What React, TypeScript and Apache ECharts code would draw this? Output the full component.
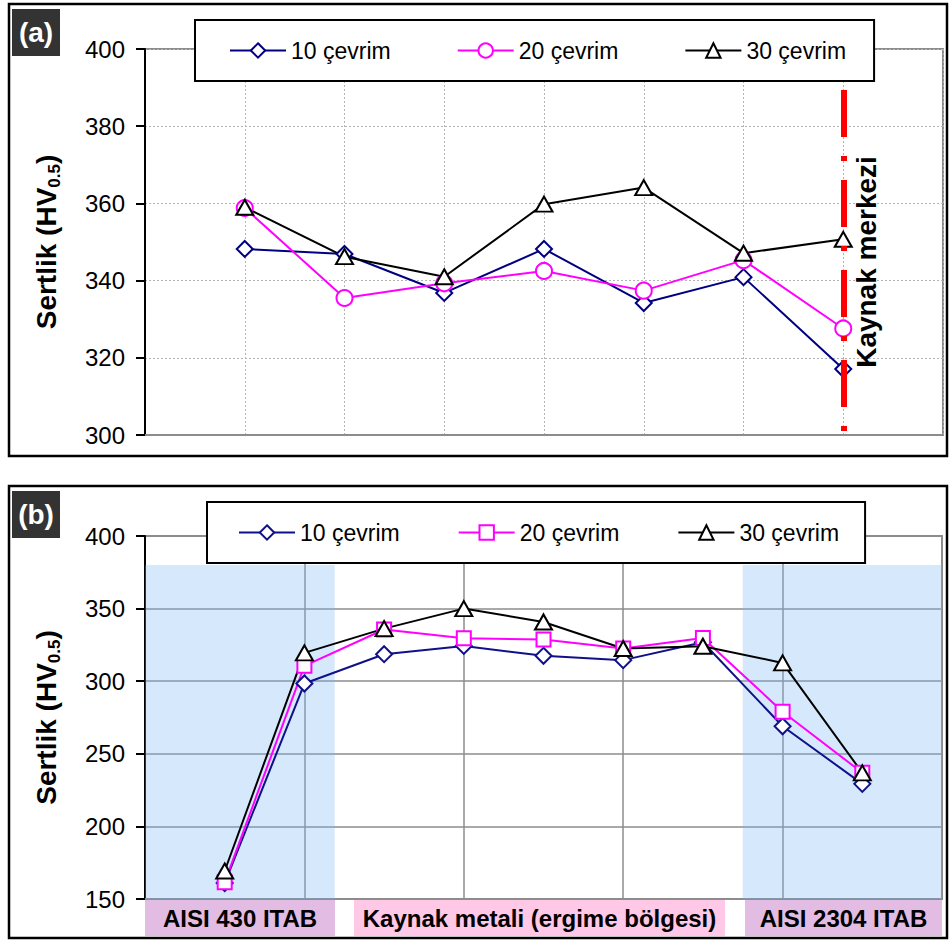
import React, { useEffect, useRef } from "react";
import * as echarts from "echarts";

const FONT = "'Liberation Sans', Arial, sans-serif";

// ---- Panel (a) data ----
const TOP_X = [1, 2, 3, 4, 5, 6, 7];
const TOP_10 = [348.2, 346.9, 336.8, 348.2, 334.2, 340.9, 317.1];
const TOP_20 = [358.8, 335.5, 339.3, 342.5, 337.4, 345.3, 327.6];
const TOP_30 = [359.0, 346.2, 341.0, 359.8, 364.1, 347.1, 350.7];
const WELD_CENTER_X = 7;

// ---- Panel (b) data ----
const BOT_X = [1, 2, 3, 4, 5, 6, 7, 8, 9];
const BOT_10 = [161.0, 298.4, 318.6, 324.3, 317.5, 314.5, 326.8, 269.0, 229.3];
const BOT_20 = [161.5, 310.6, 335.6, 329.5, 328.7, 322.5, 329.8, 279.0, 236.9];
const BOT_30 = [169.3, 319.5, 336.2, 350.0, 340.8, 322.5, 324.1, 312.6, 236.9];

const SERIES_NAMES = ["10 çevrim", "20 çevrim", "30 çevrim"];
const ZONE_LABELS = ["AISI 430 ITAB", "Kaynak metali (ergime bölgesi)", "AISI 2304 ITAB"];

const pairs = (xs: number[], ys: number[]) => xs.map((x, i) => [x, ys[i]]);

const yName = "{a|Sertlik (HV}{b|0.5}{a|)}";
const yNameStyle = {
  rich: {
    a: { fontSize: 28, fontWeight: "bold", fontFamily: FONT, color: "#000", lineHeight: 34, verticalAlign: "middle" },
    b: { fontSize: 17, fontWeight: "bold", fontFamily: FONT, color: "#000", lineHeight: 17, verticalAlign: "bottom" },
  },
};

function lineSeries(name: string, data: number[][], color: string, symbol: string, size: number | number[]) {
  return {
    name,
    type: "line",
    data,
    symbol,
    symbolSize: size,
    z: 3,
    lineStyle: { color, width: 2 },
    itemStyle: { color, borderColor: color, borderWidth: 2 },
  };
}

function legendOpt(left: number, top: number, padding: number[], gap: number) {
  return {
    left,
    top,
    orient: "horizontal",
    data: SERIES_NAMES,
    itemWidth: 56,
    itemHeight: 18,
    itemGap: gap,
    padding,
    borderColor: "#000",
    borderWidth: 2,
    backgroundColor: "#fff",
    textStyle: { fontSize: 23, color: "#000", fontFamily: FONT },
    selectedMode: false,
    z: 20,
  };
}

function labelBox(text: string, x: number, y: number) {
  return [
    { type: "rect", z: 30, shape: { x, y, width: 48, height: 47 }, style: { fill: "#333333" } },
    {
      type: "text",
      z: 31,
      x: x + 24,
      y: y + 23,
      style: { text, fill: "#fff", fontSize: 28, fontWeight: "bold", fontFamily: FONT, textAlign: "center", textVerticalAlign: "middle", align: "center", verticalAlign: "middle" },
    },
  ];
}

export default function App() {
  const topRef = useRef<HTMLDivElement>(null);
  const botRef = useRef<HTMLDivElement>(null);

  useEffect(() => {
    const c1 = echarts.init(topRef.current!, null, { renderer: "svg" });
    const c2 = echarts.init(botRef.current!, null, { renderer: "svg" });

    const opt1 = {
      animation: false,
      grid: { left: 145, top: 49, width: 798, height: 386, show: true, borderColor: "#8c8c8c", borderWidth: 2 },
      xAxis: {
        type: "value",
        min: 0,
        max: 8,
        interval: 1,
        axisLabel: { show: false },
        axisTick: { show: false },
        axisLine: { show: true, onZero: false, lineStyle: { color: "#8c8c8c", width: 2 } },
        splitLine: { show: true, lineStyle: { color: "#b4b4b4", type: [2, 2], width: 1 } },
      },
      yAxis: {
        type: "value",
        min: 300,
        max: 400,
        interval: 20,
        axisLine: { show: true, onZero: false, lineStyle: { color: "#000", width: 2 } },
        axisTick: { show: true, length: 9, lineStyle: { color: "#000", width: 2 } },
        axisLabel: { fontSize: 24, color: "#000", fontFamily: FONT, margin: 20 },
        splitLine: { show: true, lineStyle: { color: "#b4b4b4", type: [2, 2], width: 1 } },
        name: yName,
        nameLocation: "middle",
        nameRotate: 90,
        nameGap: 82,
        nameTextStyle: yNameStyle,
      },
      legend: legendOpt(195, 20, [19, 28, 19, 34], 66),
      series: [
        lineSeries(SERIES_NAMES[0], pairs(TOP_X, TOP_10), "#000080", "emptyDiamond", 16),
        lineSeries(SERIES_NAMES[1], pairs(TOP_X, TOP_20), "#ff00ff", "emptyCircle", 16),
        lineSeries(SERIES_NAMES[2], pairs(TOP_X, TOP_30), "#000000", "emptyTriangle", [17, 15]),
        {
          type: "line",
          data: [],
          z: 10,
          markLine: {
            silent: true,
            symbol: ["none", "none"],
            label: { show: false },
            lineStyle: { color: "#ff0000", width: 6, type: [47, 19, 5, 19] },
            data: [[{ coord: [WELD_CENTER_X, 389.4] }, { coord: [WELD_CENTER_X, 300.8] }]],
          },
        },
      ],
      graphic: [
        { type: "rect", z: 0, silent: true, shape: { x: 9, y: 4, width: 938, height: 452 }, style: { fill: "none", stroke: "#000", lineWidth: 2.5 } },
        ...labelBox("(a)", 12, 9),
        {
          type: "text",
          z: 15,
          x: 866,
          y: 262,
          rotation: Math.PI / 2,
          style: { text: "Kaynak merkezi", fill: "#000", fontSize: 28, fontWeight: "bold", fontFamily: FONT, textAlign: "center", textVerticalAlign: "middle", align: "center", verticalAlign: "middle" },
        },
      ],
    };

    const zoneBoxes = [
      { x: 145, w: 190, fill: "#e2bce2", text: ZONE_LABELS[0] },
      { x: 354, w: 371, fill: "#ffc8e6", text: ZONE_LABELS[1] },
      { x: 745, w: 197, fill: "#e2bce2", text: ZONE_LABELS[2] },
    ];

    const opt2 = {
      animation: false,
      grid: { left: 145, top: 66, width: 797, height: 363, show: true, borderColor: "#8c8c8c", borderWidth: 2 },
      xAxis: {
        type: "value",
        min: 0,
        max: 10,
        interval: 2,
        axisLabel: { show: false },
        axisTick: { show: false },
        axisLine: { show: true, onZero: false, lineStyle: { color: "#8c8c8c", width: 2 } },
        splitLine: { show: true, lineStyle: { color: "#8c8c8c", width: 1.5 } },
      },
      yAxis: {
        type: "value",
        min: 150,
        max: 400,
        interval: 50,
        axisLine: { show: true, onZero: false, lineStyle: { color: "#000", width: 2 } },
        axisTick: { show: true, length: 9, lineStyle: { color: "#000", width: 2 } },
        axisLabel: { fontSize: 24, color: "#000", fontFamily: FONT, margin: 20 },
        splitLine: { show: true, lineStyle: { color: "#8c8c8c", width: 1.5 } },
        name: yName,
        nameLocation: "middle",
        nameRotate: 90,
        nameGap: 82,
        nameTextStyle: yNameStyle,
      },
      legend: legendOpt(207, 32, [19, 26, 19, 31], 58),
      series: [
        lineSeries(SERIES_NAMES[0], pairs(BOT_X, BOT_10), "#101088", "emptyDiamond", 16),
        lineSeries(SERIES_NAMES[1], pairs(BOT_X, BOT_20), "#ff00ff", "emptyRect", 14),
        lineSeries(SERIES_NAMES[2], pairs(BOT_X, BOT_30), "#000000", "emptyTriangle", [17, 15]),
        {
          type: "line",
          data: [],
          z: 8,
          markArea: {
            silent: true,
            itemStyle: { color: "rgba(120,180,245,0.3)" },
            data: [
              [{ coord: [0, 150] }, { coord: [2.38, 380] }],
              [{ coord: [7.5, 150] }, { coord: [10, 380] }],
            ],
          },
        },
      ],
      graphic: [
        { type: "rect", z: 0, silent: true, shape: { x: 9, y: 16, width: 938, height: 452 }, style: { fill: "none", stroke: "#000", lineWidth: 2.5 } },
        ...labelBox("(b)", 12, 21),
        ...zoneBoxes.flatMap((b) => [
          { type: "rect", z: 12, shape: { x: b.x, y: 430, width: b.w, height: 36 }, style: { fill: b.fill } },
          {
            type: "text",
            z: 13,
            x: b.x + b.w / 2,
            y: 448,
            style: { text: b.text, fill: "#000", fontSize: 24, fontWeight: "bold", fontFamily: FONT, textAlign: "center", textVerticalAlign: "middle", align: "center", verticalAlign: "middle" },
          },
        ]),
      ],
    };

    c1.setOption(opt1 as any);
    c2.setOption(opt2 as any);
    return () => {
      c1.dispose();
      c2.dispose();
    };
  }, []);

  return (
    <div style={{ position: "fixed", left: 0, top: 0, width: 949, height: 941, background: "#fff" }}>
      <div ref={topRef} style={{ position: "absolute", left: 0, top: 0, width: 949, height: 470 }} />
      <div ref={botRef} style={{ position: "absolute", left: 0, top: 470, width: 949, height: 471 }} />
    </div>
  );
}
